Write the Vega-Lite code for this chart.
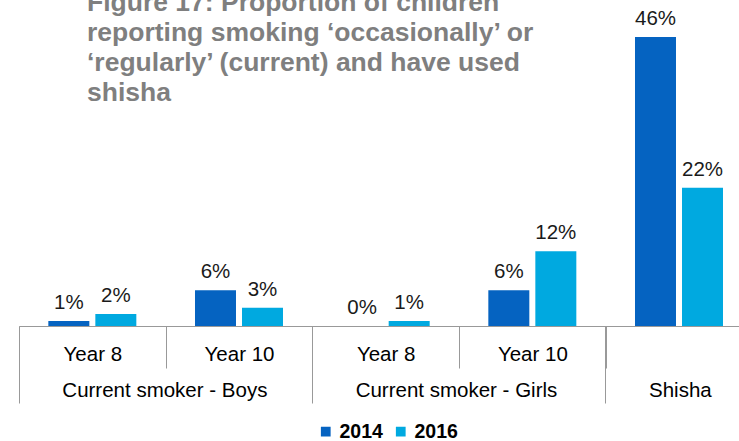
{
  "$schema": "https://vega.github.io/schema/vega-lite/v6.json",
  "width": 733.33,
  "height": 314,
  "autosize": {"type": "none"},
  "padding": {"left": 19, "top": 12, "right": -13.33, "bottom": 115},
  "title": {
    "text": ["Figure 17: Proportion of children", "reporting smoking ‘occasionally’ or", "‘regularly’ (current) and have used", "shisha"],
    "anchor": "start",
    "frame": "group",
    "dx": 68,
    "offset": -97,
    "font": "Liberation Sans",
    "fontSize": 26.5,
    "fontWeight": "bold",
    "color": "#7f7f7f",
    "lineHeight": 30
  },
  "data": {
    "values": [
      {"cat": "Boys Year 8", "year": "2014", "value": 0.008},
      {"cat": "Boys Year 8", "year": "2016", "value": 0.019},
      {"cat": "Boys Year 10", "year": "2014", "value": 0.057},
      {"cat": "Boys Year 10", "year": "2016", "value": 0.029},
      {"cat": "Girls Year 8", "year": "2014", "value": 0.0},
      {"cat": "Girls Year 8", "year": "2016", "value": 0.008},
      {"cat": "Girls Year 10", "year": "2014", "value": 0.057},
      {"cat": "Girls Year 10", "year": "2016", "value": 0.119},
      {"cat": "Shisha", "year": "2014", "value": 0.46},
      {"cat": "Shisha", "year": "2016", "value": 0.22}
    ]
  },
  "layer": [
    {
      "mark": {"type": "bar"},
      "encoding": {
        "x": {
          "field": "cat",
          "type": "nominal",
          "sort": ["Boys Year 8", "Boys Year 10", "Girls Year 8", "Girls Year 10", "Shisha"],
          "scale": {"paddingInner": 0, "paddingOuter": 0},
          "axis": {
            "orient": "bottom",
            "title": null,
            "labelAngle": 0,
            "labelExpr": "(!datum.value || datum.value == 'Shisha') ? '' : replace(replace(datum.value, 'Boys ', ''), 'Girls ', '')",
            "labelFont": "Liberation Sans",
            "labelFontSize": 20.5,
            "labelColor": "#000000",
            "labelPadding": -23.5,
            "tickBand": "extent",
            "tickSize": 42,
            "tickColor": "#999999",
            "domainColor": "#999999"
          }
        },
        "xOffset": {
          "field": "year",
          "type": "nominal",
          "sort": ["2014", "2016"],
          "scale": {"paddingInner": 0.128, "paddingOuter": 0.624}
        },
        "y": {
          "field": "value",
          "type": "quantitative",
          "scale": {"domain": [0, 0.5], "nice": false},
          "axis": null
        },
        "color": {
          "field": "year",
          "type": "nominal",
          "scale": {"domain": ["2014", "2016"], "range": ["#0563C1", "#00A9E0"]},
          "legend": {
            "orient": "none",
            "legendX": 297,
            "legendY": 409.5,
            "direction": "horizontal",
            "title": null,
            "padding": 0,
            "symbolType": "square",
            "symbolSize": 95,
            "symbolStrokeWidth": 0,
            "labelFont": "Liberation Sans",
            "labelFontSize": 19.5,
            "labelFontWeight": "bold",
            "labelColor": "#000000",
            "labelOffset": 4,
            "columnPadding": 8
          }
        }
      }
    },
    {
      "mark": {"type": "text", "baseline": "alphabetic", "dy": -12, "font": "Liberation Sans", "fontSize": 20.5, "color": "#1a1a1a"},
      "encoding": {
        "x": {
          "field": "cat",
          "type": "nominal",
          "sort": ["Boys Year 8", "Boys Year 10", "Girls Year 8", "Girls Year 10", "Shisha"],
          "axis": {
            "orient": "bottom",
            "title": null,
            "values": ["Boys Year 8", "Girls Year 8", "Shisha"],
            "bandPosition": 0,
            "labelAngle": 0,
            "labelAlign": "left",
            "labelOffset": -30,
            "labelLimit": 0,
            "labelExpr": "datum.value == 'Shisha' ? 'Shisha' : (indexof(datum.value, 'Boys') == 0 ? 'Current smoker - Boys' : 'Current smoker - Girls')",
            "labelFont": "Liberation Sans",
            "labelFontSize": 20.5,
            "labelColor": "#000000",
            "labelPadding": -22.5,
            "ticks": true,
            "tickSize": 77,
            "tickColor": "#999999",
            "domain": false
          }
        },
        "xOffset": {"field": "year", "type": "nominal", "sort": ["2014", "2016"]},
        "y": {"field": "value", "type": "quantitative", "axis": null},
        "text": {"field": "value", "type": "quantitative", "format": ".0%"}
      }
    }
  ],
  "resolve": {"axis": {"x": "independent"}},
  "config": {
    "view": {"stroke": null},
    "axis": {"grid": false}
  }
}
